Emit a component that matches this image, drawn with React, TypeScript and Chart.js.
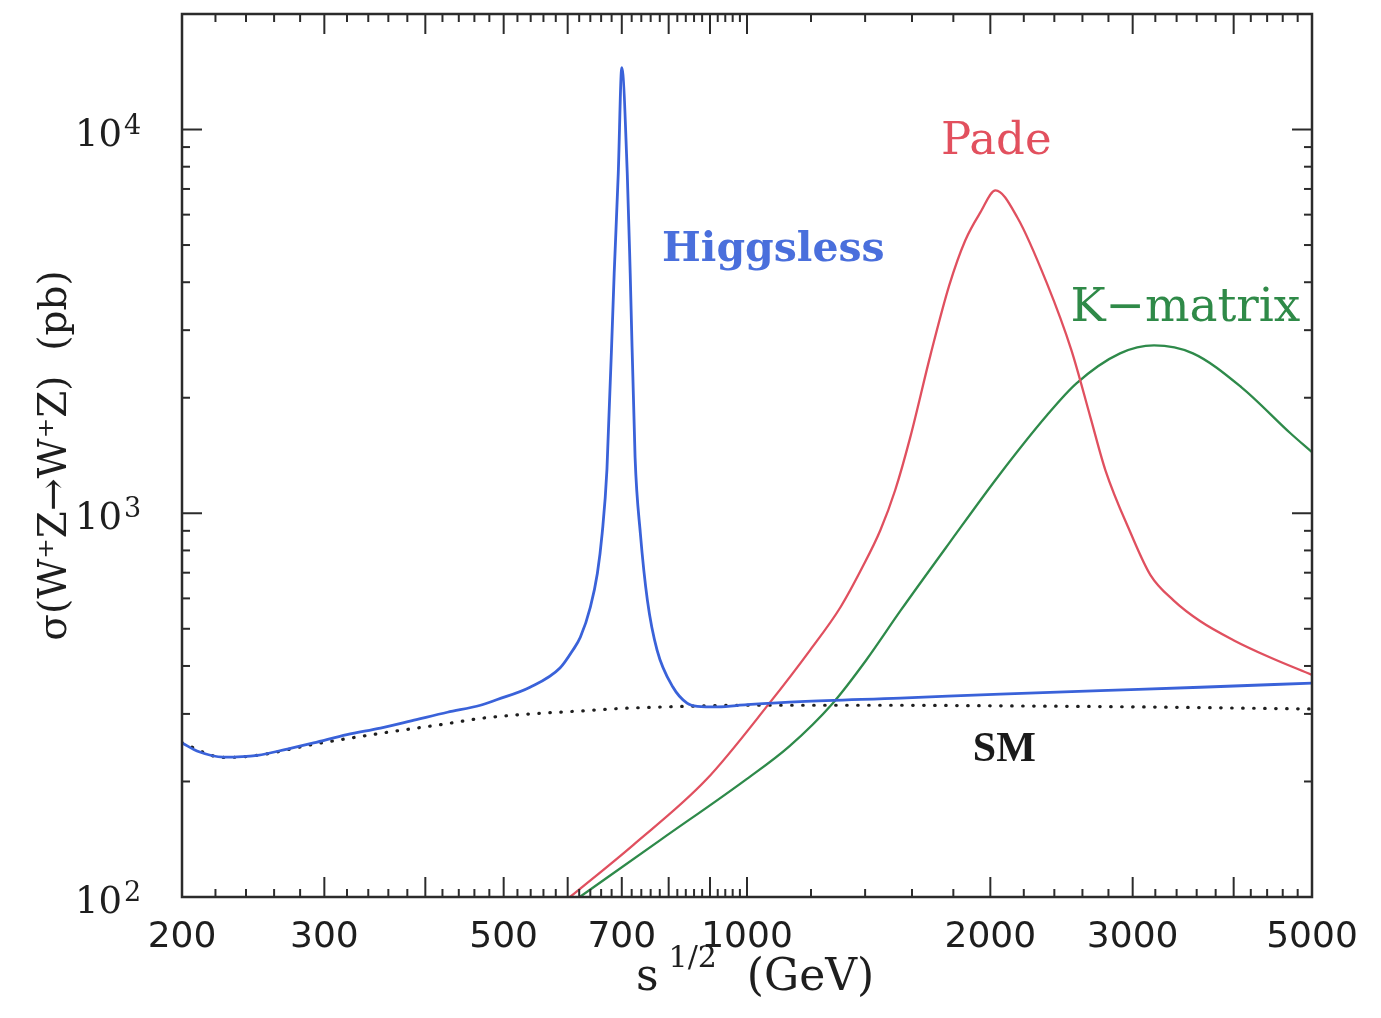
import { useEffect, useRef } from "react";
import { Chart, registerables } from "chart.js";

Chart.register(...registerables);

// ---- data (x: sqrt(s) in GeV, y: cross section in pb) ----
const higgslessX = [200, 210, 225, 248, 270, 291, 320, 352, 390, 426, 468, 491, 539, 587, 609, 622, 640, 653, 662, 671, 685, 693, 700, 711, 717, 727, 738, 753, 774, 810, 843, 868, 920, 1000, 1164, 1548, 2058, 2736, 3638, 5000];
const higgslessY = [252, 239, 231.5, 234, 243, 252, 265, 275.5, 290, 303, 316, 327, 352, 395, 440, 475, 569, 698, 887, 1300, 4217, 7681, 14500, 7681, 4217, 1399, 887, 593, 440, 352, 320, 314, 313, 317, 323, 330, 338, 345, 352, 361];

const smX = [200, 225, 248, 291, 352, 426, 468, 540, 617, 700, 843, 1000, 1500, 2000, 3000, 5000];
const smY = [252, 231, 234, 250, 267, 283, 292, 300, 305, 310, 314, 316, 316, 315, 313, 309];

const padeX = [604, 723, 890, 1066, 1197, 1305, 1389, 1462, 1525, 1592, 1686, 1779, 1862, 1944, 2030, 2160, 2350, 2520, 2660, 2776, 2980, 3156, 3370, 3638, 3998, 4404, 5000];
const padeY = [100, 136.6, 202, 320, 440, 569, 723, 903, 1148, 1577, 2579, 3925, 5140, 6080, 6940, 5900, 3972, 2658, 1778, 1294, 892, 690, 593, 523, 467, 424, 379];

const kmatrixX = [621, 781, 995, 1128, 1277, 1404, 1550, 1779, 2046, 2350, 2556, 2894, 3188, 3562, 4090, 4702, 5000];
const kmatrixY = [100, 140.7, 201.7, 247, 320, 414, 559, 836, 1249, 1800, 2180, 2610, 2738, 2610, 2129, 1616, 1442];

// ---- axis ticks / labels ----
const xLabelValues = [200, 300, 500, 700, 1000, 2000, 3000, 5000];
const xMajorTicks = [300, 400, 500, 600, 700, 800, 900, 1000, 2000, 3000, 4000];
const yDecades = [100, 1000, 10000];
const yExponents = ["2", "3", "4"];
const yMinorMultipliers = [2, 3, 4, 5, 6, 7, 8, 9];

// ---- in-plot annotations (anchored in data units) ----
const noteTexts = ["Higgsless", "Pade", "K\u2212matrix", "SM"];
const noteX = [1078, 2034, 3486, 2081];
const noteY = [4841, 9250, 3420, 241];
const noteColors = ["#4a6fdc", "#e2505e", "#2f8a48", "#1a1a1a"];
const noteFonts = ['bold 41px "DejaVu Serif"', '45px "DejaVu Serif"', '47px "DejaVu Serif"', 'bold 42px "Liberation Serif"'];

const toPoints = (xs: number[], ys: number[]) => xs.map((x, i) => ({ x, y: ys[i] }));

const xMinorTicks: number[] = [];
for (let v = 220; v < 1000; v += 20) if (v % 100 !== 0) xMinorTicks.push(v);
for (let v = 1200; v < 5000; v += 200) if (v % 1000 !== 0) xMinorTicks.push(v);

const framePlugin = {
  id: "frameTicks",
  afterDatasetsDraw(chart: any) {
    const { ctx, chartArea: a, scales } = chart;
    const xs = scales.x;
    const ys = scales.y;
    ctx.save();
    ctx.strokeStyle = "#2b2b2b";
    ctx.lineWidth = 2;
    const seg = (x1: number, y1: number, x2: number, y2: number) => {
      ctx.beginPath();
      ctx.moveTo(x1, y1);
      ctx.lineTo(x2, y2);
      ctx.stroke();
    };
    for (const v of xMinorTicks) {
      const px = xs.getPixelForValue(v);
      seg(px, a.bottom, px, a.bottom - 8);
      seg(px, a.top, px, a.top + 8);
    }
    for (const v of xMajorTicks) {
      const px = xs.getPixelForValue(v);
      seg(px, a.bottom, px, a.bottom - 20);
      seg(px, a.top, px, a.top + 20);
    }
    for (const d of yDecades) {
      const py = ys.getPixelForValue(d);
      seg(a.left, py, a.left + 20, py);
      seg(a.right, py, a.right - 20, py);
      for (const m of yMinorMultipliers) {
        const v = d * m;
        if (v > ys.max) continue;
        const pm = ys.getPixelForValue(v);
        seg(a.left, pm, a.left + 8, pm);
        seg(a.right, pm, a.right - 8, pm);
      }
    }
    ctx.lineWidth = 2.5;
    ctx.strokeRect(a.left, a.top, a.right - a.left, a.bottom - a.top);
    ctx.restore();
  },
  afterDraw(chart: any) {
    const { ctx, chartArea: a, scales } = chart;
    const xs = scales.x;
    const ys = scales.y;
    ctx.save();
    // y decade labels 10^n
    ctx.fillStyle = "#1e1e1e";
    ctx.textBaseline = "alphabetic";
    yDecades.forEach((d, i) => {
      const py = ys.getPixelForValue(d);
      ctx.font = '37px "DejaVu Serif"';
      ctx.textAlign = "right";
      ctx.fillText("10", a.left - 60, py + 16);
      ctx.font = '27px "DejaVu Serif"';
      ctx.textAlign = "left";
      ctx.fillText(yExponents[i], a.left - 58, py + 4);
    });
    // x title: s^{1/2} (GeV)
    const cx = (a.left + a.right) / 2;
    const base = a.bottom + 93;
    let x = cx - 111;
    ctx.textAlign = "left";
    ctx.font = '44px "DejaVu Serif"';
    ctx.fillText("s", x, base);
    x += ctx.measureText("s").width + 10;
    ctx.font = '30px "DejaVu Serif"';
    ctx.fillText("1/2", x, base - 23);
    x += ctx.measureText("1/2").width + 30;
    ctx.font = '44px "DejaVu Serif"';
    ctx.fillText("(GeV)", x, base);
    // annotations
    ctx.textAlign = "center";
    ctx.textBaseline = "middle";
    noteTexts.forEach((t, i) => {
      ctx.font = noteFonts[i];
      ctx.fillStyle = noteColors[i];
      ctx.fillText(t, xs.getPixelForValue(noteX[i]), ys.getPixelForValue(noteY[i]));
    });
    ctx.restore();
  },
};

export default function App() {
  const canvasRef = useRef<HTMLCanvasElement | null>(null);

  useEffect(() => {
    if (!canvasRef.current) return;
    const chart = new Chart(canvasRef.current, {
      type: "line",
      data: {
        datasets: [
          {
            label: "Higgsless",
            data: toPoints(higgslessX, higgslessY),
            borderColor: "#3a62d9",
            borderWidth: 2.8,
            pointRadius: 0,
            cubicInterpolationMode: "monotone",
            order: 0,
          },
          {
            label: "Pade",
            data: toPoints(padeX, padeY),
            borderColor: "#e0505f",
            borderWidth: 2.3,
            pointRadius: 0,
            cubicInterpolationMode: "monotone",
            order: 1,
          },
          {
            label: "K-matrix",
            data: toPoints(kmatrixX, kmatrixY),
            borderColor: "#2e8a4a",
            borderWidth: 2.3,
            pointRadius: 0,
            cubicInterpolationMode: "monotone",
            order: 2,
          },
          {
            label: "SM",
            data: toPoints(smX, smY),
            borderColor: "#1e1e1e",
            borderWidth: 3.2,
            borderDash: [0.5, 10.5],
            borderCapStyle: "round",
            pointRadius: 0,
            cubicInterpolationMode: "monotone",
            order: 3,
          },
        ],
      },
      options: {
        animation: false,
        responsive: true,
        maintainAspectRatio: false,
        parsing: false,
        layout: { padding: { left: 0, right: 61, top: 6, bottom: 0 } },
        plugins: {
          legend: { display: false },
          tooltip: { enabled: false },
        },
        scales: {
          x: {
            type: "logarithmic",
            min: 200,
            max: 5000,
            grid: { display: false, drawTicks: false },
            border: { display: false },
            afterBuildTicks: (scale: any) => {
              scale.ticks = xLabelValues.map((v) => ({ value: v }));
            },
            afterFit: (scale: any) => {
              scale.height = 111;
              scale.paddingLeft = 0;
              scale.paddingRight = 0;
            },
            ticks: {
              autoSkip: false,
              maxRotation: 0,
              minRotation: 0,
              padding: 19,
              color: "#1e1e1e",
              font: { family: "DejaVu Sans", size: 36 },
              callback: (value: any) => String(value),
            },
          },
          y: {
            type: "logarithmic",
            min: 100,
            max: 20000,
            grid: { display: false, drawTicks: false },
            border: { display: false },
            ticks: { display: false },
            afterFit: (scale: any) => {
              scale.width = 174;
            },
            title: {
              display: true,
              text: "\u03c3(W\u207aZ\u2192W\u207aZ)  (pb)",
              color: "#1e1e1e",
              font: { family: "DejaVu Serif", size: 39 },
              padding: { top: 24, bottom: 0 },
            },
          },
        },
      } as any,
      plugins: [framePlugin],
    });
    return () => chart.destroy();
  }, []);

  return (
    <div style={{ position: "relative", width: "1365px", height: "1000px" }}>
      <canvas ref={canvasRef} />
    </div>
  );
}
